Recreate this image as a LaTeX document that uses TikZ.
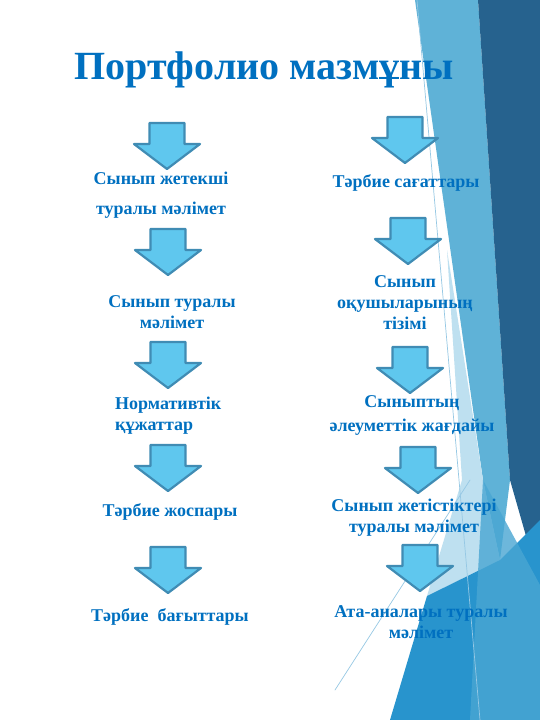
\documentclass[tikz,border=0pt]{standalone}
\usepackage{fontspec}
\setmainfont{Liberation Serif}
\definecolor{textblue}{RGB}{0,112,192}
\definecolor{arrowfill}{RGB}{95,199,238}
\definecolor{arrowedge}{RGB}{64,140,180}
\definecolor{darkslab}{RGB}{38,98,142}
\definecolor{lightband}{RGB}{95,178,215}
\definecolor{paleband}{RGB}{190,224,240}
\definecolor{midblue}{RGB}{40,148,205}
\definecolor{thinline}{RGB}{150,200,228}
\begin{document}
\begin{tikzpicture}[x=1pt, y=-1pt, line join=round, line cap=round,
	txt/.style={text=textblue, font=\bfseries\fontsize{18}{21}\selectfont, align=center, inner sep=0pt},
	arrowbody/.style={fill=arrowfill, draw=arrowedge, line width=2.2pt},
	blockarr/.pic={\draw[arrowbody] (-17.5,0)--(17.5,0)--(17.5,21)--(33,21)--(0,46)--(-33,21)--(-17.5,21)--cycle;}]
	\useasboundingbox (0,0) rectangle (540,720);
	\fill[white] (0,0) rectangle (540,720);
	% right side decoration
	\fill[lightband] (415,0)--(478,0)--(510,480)--(500,560)--(483,480)--cycle;
	\fill[darkslab] (478,0)--(540,0)--(540,585)--(510,480)--cycle;
	\fill[paleband] (447,250)--(483,480)--(500,560)--(427,596)--(462,480)--cycle;
	\fill[midblue] (390,720)--(427,596)--(500,560)--(540,520)--(540,720)--cycle;
	\fill[lightband!60!midblue, opacity=0.8] (483,480)--(540,585)--(540,720)--(470,720)--cycle;
	\draw[thinline, line width=0.7pt] (417,0)--(480,720);
	\draw[thinline, line width=0.7pt] (335,690)--(470,480);
	% title
	\node[text=textblue, font=\bfseries\fontsize{40}{44}\selectfont, inner sep=0pt] (title) at (264,70) {Портфолио мазмұны};
	% left column
	\pic (la1) at (167,123) {blockarr};
	\node[txt, font=\bfseries\fontsize{18}{30}\selectfont] (l1) at (161,195) {Сынып жетекші\\туралы мәлімет};
	\pic (la2) at (168,229) {blockarr};
	\node[txt] (l2) at (172,312) {Сынып туралы\\мәлімет};
	\pic (la3) at (168,342) {blockarr};
	\node[txt, align=left, anchor=west] (l3) at (115,416) {Нормативтік\\құжаттар};
	\pic (la4) at (168,445) {blockarr};
	\node[txt] (l4) at (170,512) {Тәрбие жоспары};
	\pic (la5) at (168,547) {blockarr};
	\node[txt] (l5) at (170,617) {Тәрбие\ \ бағыттары};
	% right column
	\pic (ra1) at (405,117) {blockarr};
	\node[txt] (r1) at (406,183) {Тәрбие сағаттары};
	\pic (ra2) at (408,218) {blockarr};
	\node[txt] (r2) at (405,303) {Сынып\\оқушыларының\\тізімі};
	\pic (ra3) at (410,347) {blockarr};
	\node[txt, font=\bfseries\fontsize{18}{24}\selectfont] (r3) at (412,415) {Сыныптың\\әлеуметтік жағдайы};
	\pic (ra4) at (418,447) {blockarr};
	\node[txt] (r4) at (414,518) {Сынып жетістіктері\\туралы мәлімет};
	\pic (ra5) at (420,545) {blockarr};
	\node[txt] (r5) at (421,622) {Ата-аналары туралы\\мәлімет};
\end{tikzpicture}
\end{document}
